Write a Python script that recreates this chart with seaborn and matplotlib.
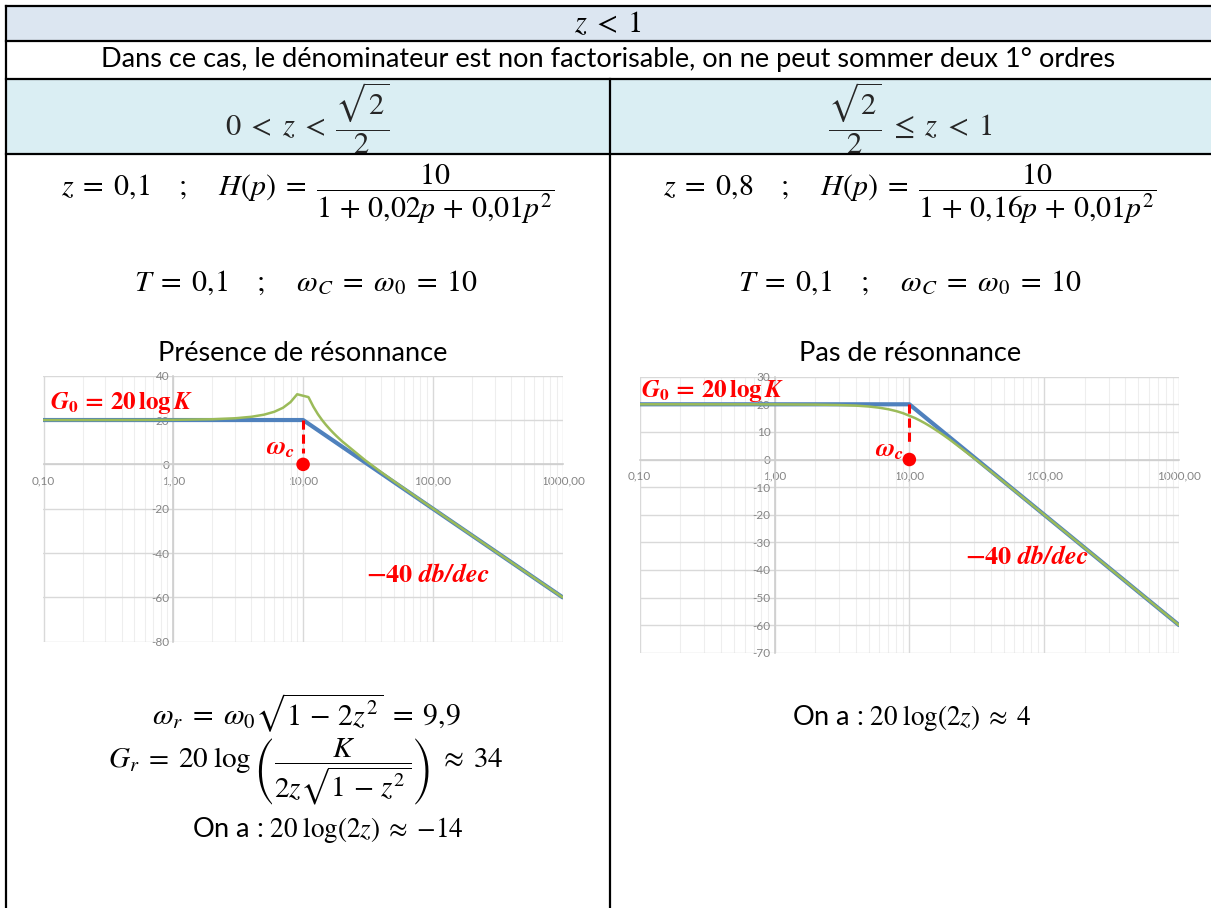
import numpy as np
import pandas as pd
import seaborn as sns
import matplotlib
matplotlib.use("Agg")
import matplotlib.pyplot as plt
from matplotlib.patches import Rectangle
from matplotlib.ticker import FixedLocator, FuncFormatter, LogLocator

# ---- data -------------------------------------------------------------
freqs = [0.1, 0.2, 0.5, 1, 2, 3, 4, 5, 6, 7, 8, 9, 11, 12, 13, 14, 15, 16, 17,
         18, 19, 20, 30, 40, 50, 60, 70, 80, 90, 100, 200, 300, 400, 500, 600,
         700, 800, 900, 1000]

# real gain (dB), z = 0.1
gain_z01 = [20.00, 20.00, 20.02, 20.09, 20.35, 20.80, 21.47, 22.42, 23.73, 25.53,
            28.09, 31.63, 30.34, 26.00, 22.65, 20.00, 17.82, 15.96, 14.33, 12.88,
            11.58, 10.38, 1.91, -3.54, -7.61, -10.89, -13.63, -15.99, -18.06,
            -19.91, -32.02, -39.08, -44.08, -47.96, -51.12, -53.80, -56.12,
            -58.17, -60.00]

# real gain (dB), z = 0.8
gain_z08 = [20.00, 20.00, 19.99, 19.98, 19.90, 19.75, 19.53, 19.20, 18.76, 18.20,
            17.53, 16.76, 15.03, 14.11, 13.19, 12.26, 11.35, 10.46, 9.60, 8.76,
            7.94, 7.16, 0.60, -4.25, -8.06, -11.20, -13.86, -16.16, -18.20,
            -20.02, -32.05, -39.09, -44.08, -47.96, -51.12, -53.80, -56.12,
            -58.17, -60.00]

# asymptotic diagram
asym_freqs = [0.1, 10, 1000]
asym_gain = [20, 20, -60]

omega_c = 10
x_ticks = [0.1, 1, 10, 100, 1000]

# ---- style -------------------------------------------------------------
sns.set_theme(style="white")
plt.rcParams["font.family"] = ["Lato", "DejaVu Sans"]
plt.rcParams["mathtext.fontset"] = "stix"

W, H = 1211, 908
fig = plt.figure(figsize=(W / 100, H / 100), dpi=100)

bg = fig.add_axes([0, 0, 1, 1], zorder=-5)
bg.set_xlim(0, W)
bg.set_ylim(H, 0)
bg.axis("off")

BLUE = "#4f81bd"
GREEN = "#9bbb59"
RED = "#ff0000"
GRAY_TXT = "#858585"
MATH = 21.5
SANS = 19.5


def T(x, y, s, size=MATH, color="black", **kw):
    return fig.text(x / W, 1 - y / H, s, ha="center", va="center",
                    fontsize=size, color=color, **kw)


# ---- table -------------------------------------------------------------
bg.add_patch(Rectangle((6, 6), W, 34.5, fc="#dce6f1", ec="none"))
bg.add_patch(Rectangle((6, 79), W, 75, fc="#daeef3", ec="none"))

lw = 1.6
for yy in (6, 40.5, 79, 154):
    bg.plot([6, W + 5], [yy, yy], color="black", lw=lw, solid_capstyle="projecting", zorder=5)
bg.plot([6, 6], [6, H + 5], color="black", lw=lw, solid_capstyle="projecting", zorder=5)
bg.plot([610, 610], [79, H + 5], color="black", lw=lw, solid_capstyle="projecting", zorder=5)

T(608, 23, r"$z\;<\;1$", size=22)
T(608, 59, "Dans ce cas, le dénominateur est non factorisable, on ne peut sommer deux 1° ordres",
  size=SANS)

clip_row = Rectangle((6, 79), W, 75, transform=bg.transData, fc="none", ec="none")
for xc, s in ((307, r"$0\;<\;z\;<\;\dfrac{\sqrt{2}}{2}$"),
              (910, r"$\dfrac{\sqrt{2}}{2}\;\leq\;z\;<\;1$")):
    t = bg.text(xc, 118, s, ha="center", va="center", fontsize=22)
    t.set_clip_path(clip_row)

eq_left = (r"$z\;=\;0{,}1\quad\;;\quad\;H(p)\;=\;"
           r"\dfrac{10}{1\,+\,0{,}02p\,+\,0{,}01p^2}$")
eq_right = (r"$z\;=\;0{,}8\quad\;;\quad\;H(p)\;=\;"
            r"\dfrac{10}{1\,+\,0{,}16p\,+\,0{,}01p^2}$")
eq_t = r"$T\;=\;0{,}1\quad\;;\quad\;\omega_C\;=\;\omega_0\;=\;10$"

T(308, 194, eq_left)
T(910, 194, eq_right)
T(306, 283, eq_t)
T(910, 283, eq_t)
T(303, 353, "Présence de résonnance", size=SANS)
T(910, 353, "Pas de résonnance", size=SANS)
T(306, 713, r"$\omega_r\;=\;\omega_0\sqrt{1\,-\,2z^2}\;=\;9{,}9$")
T(306, 772, r"$G_r\;=\;20\;\log\left(\dfrac{K}{2z\sqrt{1\,-\,z^2}}\right)\;\approx\;34$",
  size=21)
T(328, 830, r"On a : $20\;\log(2z)\;\approx\;{-}14$", size=SANS)
T(912, 718, r"On a : $20\;\log(2z)\;\approx\;4$", size=SANS)


# ---- Bode plots ----------------------------------------------------------
def fmt_x(v, _):
    return f"{v:.2f}".replace(".", ",")


def bode(px, ylim, ystep, gains):
    x0, x1, ytop, ybot = px
    ax = fig.add_axes([x0 / W, 1 - ybot / H, (x1 - x0) / W, (ybot - ytop) / H])
    ax.patch.set_alpha(0)
    ax.set_xscale("log")
    ax.set_xlim(0.1, 1000)
    ax.set_ylim(*ylim)
    ax.xaxis.set_major_locator(FixedLocator(x_ticks))
    ax.xaxis.set_minor_locator(LogLocator(base=10, subs=np.arange(2, 10)))
    ax.xaxis.set_major_formatter(FuncFormatter(fmt_x))
    ax.xaxis.set_minor_formatter(FuncFormatter(lambda v, _: ""))
    ax.yaxis.set_major_locator(FixedLocator(np.arange(ylim[0], ylim[1] + 1, ystep)))
    ax.yaxis.set_major_formatter(FuncFormatter(lambda v, _: f"{int(v)}"))
    ax.grid(which="major", color="#d9d9d9", lw=1.0)
    ax.grid(which="minor", axis="x", color="#eeeeee", lw=0.8)
    for s in ("top", "right"):
        ax.spines[s].set_visible(False)
    ax.spines["left"].set_position(("data", 1))
    ax.spines["bottom"].set_position(("data", 0))
    for s in ("left", "bottom"):
        ax.spines[s].set_color("#cfcfcf")
        ax.spines[s].set_linewidth(1.2)
    ax.tick_params(axis="both", which="both", length=0, labelsize=8.5,
                   labelcolor=GRAY_TXT)
    ax.tick_params(axis="x", pad=8)
    ax.tick_params(axis="y", pad=3)
    ax.set_axisbelow(True)

    sns.lineplot(x=asym_freqs, y=asym_gain, ax=ax, color=BLUE, lw=3.0,
                 estimator=None, sort=False, zorder=3)
    sns.lineplot(x=freqs, y=gains, ax=ax, color=GREEN, lw=1.8,
                 estimator=None, sort=False, zorder=4)
    ax.plot([omega_c, omega_c], [20, 5], color=RED, lw=2.2,
            ls=(0, (3, 1.6)), zorder=5)
    sns.scatterplot(x=[omega_c], y=[0], ax=ax, color=RED, s=95,
                    edgecolor="none", zorder=6)
    ax.set_xlabel("")
    ax.set_ylabel("")
    return ax


bode((43.5, 562.7, 375.7, 641.7), (-80, 40), 20, gain_z01)
bode((639.7, 1179, 376.7, 652.7), (-70, 30), 10, gain_z08)

lab_g0 = r"$\mathbfit{G}_{\mathbf{0}}\,\mathbf{=}\,\mathbf{20\,log}\,\mathbfit{K}$"
lab_wc = r"$\boldsymbol{\omega}_{\mathbfit{c}}$"
lab_slope = r"$\mathbf{-40}\ \mathbfit{db/dec}$"

T(121.7, 403, lab_g0, size=18, color=RED)
T(281, 447, lab_wc, size=19, color=RED)
T(428, 575, lab_slope, size=19, color=RED)
T(712.5, 391, lab_g0, size=18, color=RED)
T(890, 449, lab_wc, size=19, color=RED)
T(1027, 557, lab_slope, size=19, color=RED)

fig.savefig("out.png", dpi=100)
